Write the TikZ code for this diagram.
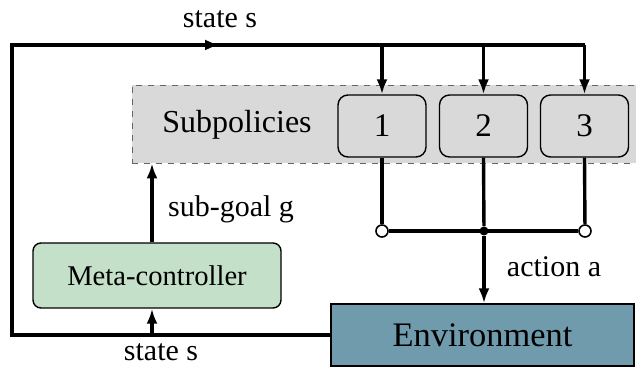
\documentclass[tikz,border=0pt]{standalone}
\usepackage{fontspec}
\setmainfont{Liberation Serif}
\usetikzlibrary{arrows.meta,positioning}

\definecolor{subgrey}{HTML}{D9D9D9}
\definecolor{metagreen}{HTML}{C5E0C8}
\definecolor{envblue}{HTML}{6F9BAD}

\begin{document}
\begin{tikzpicture}[x=0.5pt,y=-0.5pt,
    line/.style={line width=1.7pt},
    arr/.style={line width=1.7pt, -{Latex[length=7.5pt,width=5.5pt]}},
    subbg/.style={draw=black!60, dashed, line width=0.4pt, fill=subgrey,
        minimum width=256pt, minimum height=39pt},
    policy/.style={draw, line width=0.7pt, rounded corners=5pt, fill=subgrey,
        minimum width=44pt, minimum height=31pt, font=\fontsize{16.5}{18}\selectfont},
    opendot/.style={circle, draw, line width=0.8pt, fill=white, inner sep=0pt, minimum size=6pt},
    fulldot/.style={circle, fill=black, inner sep=0pt, minimum size=4.5pt},
    lbl/.style={font=\fontsize{15}{17}\selectfont}]
    \useasboundingbox (0,0) rectangle (636,368);

    % subpolicy band and boxes
    \node[subbg] (band) at (388,124) {};
    \node[lbl, font=\fontsize{16}{18}\selectfont] (sublabel) at (237,125) {Subpolicies};
    \node[policy] (b1) at (382,126) {1};
    \node[policy] (b2) at (483.5,126) {2};
    \node[policy] (b3) at (584.5,126) {3};

    % controller and environment
    \node[draw, line width=0.7pt, rounded corners=4pt, fill=metagreen,
        minimum width=124pt, minimum height=32.5pt,
        font=\fontsize{14.3}{16}\selectfont] (meta) at (157,275.5) {Meta-controller};
    \node[draw, line width=0.7pt, fill=envblue,
        minimum width=151.5pt, minimum height=31pt,
        font=\fontsize{17.2}{19}\selectfont] (env) at (482.5,335) {Environment};

    % junction dots
    \node[opendot] (o1) at (382,231) {};
    \node[opendot] (o3) at (585,231) {};
    \node[fulldot] (j) at (484,231) {};

    \coordinate (tl) at (12,45);
    \coordinate (tr) at (584.5,45);
    \coordinate (mg) at (152,0);

    % state feedback loop
    \draw[line] (env.west) -| (tl) -- (tr);
    \draw[arr] (tl) -- ++(208,0);
    \draw[arr] (b1.north |- tl) -- (b1.north);
    \draw[arr] (b2.north |- tl) -- (b2.north);
    \draw[arr] (tr) -- (b3.north);
    \draw[arr] (mg |- env.west) -- (mg |- meta.south);

    % sub-goal
    \draw[arr] (mg |- meta.north) -- (mg |- band.south);

    % actions
    \draw[line] (b1.south) -- (o1);
    \draw[line] (b3.south) -- (o3);
    \draw[line] (o1) -- (o3);
    \draw[line] (b2.south) -- (j);
    \draw[arr] (j) -- (j |- env.north);

    % labels
    \node[lbl] (stop) at (220,19) {state s};
    \node[lbl] (sgoal) at (231,209) {sub-goal g};
    \node[lbl] (act) at (554,267) {action a};
    \node[lbl] (sbot) at (161,352) {state s};
\end{tikzpicture}
\end{document}
